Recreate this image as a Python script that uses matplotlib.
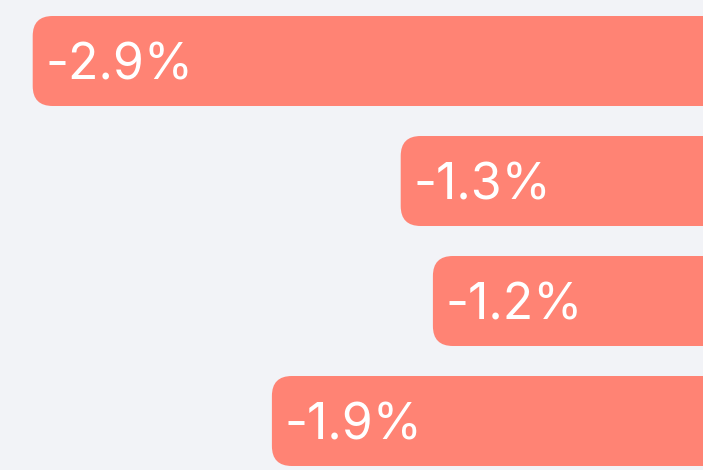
import matplotlib.pyplot as plt
from matplotlib.patches import FancyBboxPatch

# values (percent change)
values = [-2.91, -1.31, -1.17, -1.87]
labels = ["{:.1f}%".format(v) for v in values]

bg = "#f2f3f7"
bar_color = "#ff8374"

px_x = 230.0  # pixels per percent
px_y = 120.0  # pixels per category

fig = plt.figure(figsize=(7.03, 4.70), dpi=100, facecolor=bg)
ax = fig.add_axes([0, 0, 1, 1])
ax.set_facecolor(bg)
ax.set_xlim(-702 / px_x, 1 / px_x)
ax.set_ylim((470 - 61) / px_y, -61 / px_y)
ax.axis("off")

bar_h = 0.75
radius = 20 / px_x
for i, (v, lab) in enumerate(zip(values, labels)):
    box = FancyBboxPatch(
        (v, i - bar_h / 2), -v + 0.5, bar_h,
        boxstyle="round,pad=0,rounding_size={}".format(radius),
        mutation_aspect=px_x / px_y,
        facecolor=bar_color, edgecolor="none",
    )
    ax.add_patch(box)
    ax.text(v + 13 / px_x, i + 5 / px_y, lab, color="white", fontsize=36,
            family="Inter", va="center", ha="left")

fig.savefig("out.png", dpi=100, facecolor=bg)
